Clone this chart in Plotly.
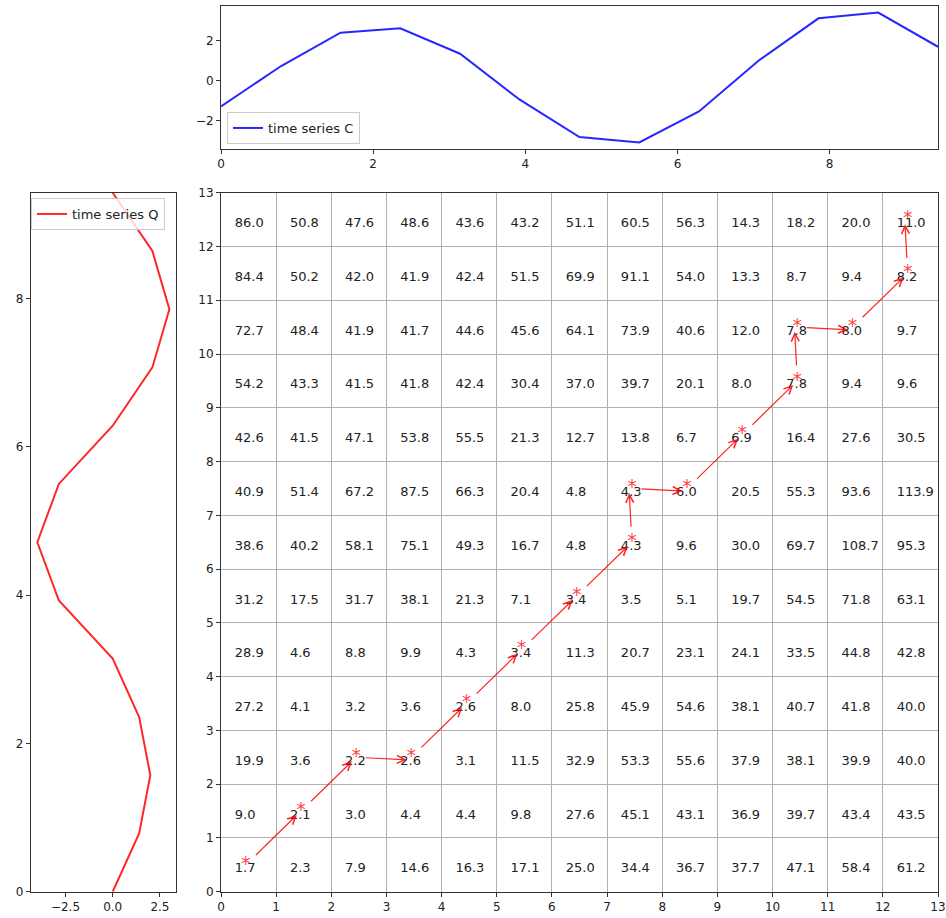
import plotly.graph_objects as go

# ---------------- data ----------------
t_values = [0.0, 0.785, 1.571, 2.356, 3.142, 3.927, 4.712, 5.498, 6.283, 7.069, 7.854, 8.639, 9.425]
series_c = [-1.30, 0.72, 2.41, 2.63, 1.35, -0.96, -2.84, -3.11, -1.55, 1.01, 3.13, 3.42, 1.70]
series_q = [0.0, 1.40, 1.99, 1.40, 0.0, -2.85, -3.99, -2.85, 0.0, 2.10, 3.00, 2.10, 0.0]

# cost matrix, row index = Q index (bottom to top), column = C index
cost_rows = [
    [1.7, 2.3, 7.9, 14.6, 16.3, 17.1, 25.0, 34.4, 36.7, 37.7, 47.1, 58.4, 61.2],
    [9.0, 2.1, 3.0, 4.4, 4.4, 9.8, 27.6, 45.1, 43.1, 36.9, 39.7, 43.4, 43.5],
    [19.9, 3.6, 2.2, 2.6, 3.1, 11.5, 32.9, 53.3, 55.6, 37.9, 38.1, 39.9, 40.0],
    [27.2, 4.1, 3.2, 3.6, 2.6, 8.0, 25.8, 45.9, 54.6, 38.1, 40.7, 41.8, 40.0],
    [28.9, 4.6, 8.8, 9.9, 4.3, 3.4, 11.3, 20.7, 23.1, 24.1, 33.5, 44.8, 42.8],
    [31.2, 17.5, 31.7, 38.1, 21.3, 7.1, 3.4, 3.5, 5.1, 19.7, 54.5, 71.8, 63.1],
    [38.6, 40.2, 58.1, 75.1, 49.3, 16.7, 4.8, 4.3, 9.6, 30.0, 69.7, 108.7, 95.3],
    [40.9, 51.4, 67.2, 87.5, 66.3, 20.4, 4.8, 4.3, 6.0, 20.5, 55.3, 93.6, 113.9],
    [42.6, 41.5, 47.1, 53.8, 55.5, 21.3, 12.7, 13.8, 6.7, 6.9, 16.4, 27.6, 30.5],
    [54.2, 43.3, 41.5, 41.8, 42.4, 30.4, 37.0, 39.7, 20.1, 8.0, 7.8, 9.4, 9.6],
    [72.7, 48.4, 41.9, 41.7, 44.6, 45.6, 64.1, 73.9, 40.6, 12.0, 7.8, 8.0, 9.7],
    [84.4, 50.2, 42.0, 41.9, 42.4, 51.5, 69.9, 91.1, 54.0, 13.3, 8.7, 9.4, 8.2],
    [86.0, 50.8, 47.6, 48.6, 43.6, 43.2, 51.1, 60.5, 56.3, 14.3, 18.2, 20.0, 11.0],
]

# warping path (C index, Q index)
path_c = [0, 1, 2, 3, 4, 5, 6, 7, 7, 8, 9, 10, 10, 11, 12, 12]
path_q = [0, 1, 2, 2, 3, 4, 5, 6, 7, 7, 8, 9, 10, 10, 11, 12]

grid_ticks = list(range(14))

# ---------------- figure ----------------
FONT = "DejaVu Sans"
W, H = 946, 918

fig = go.Figure()

# cell values
cx, cy, ct = [], [], []
for j, row in enumerate(cost_rows):
    for i, v in enumerate(row):
        cx.append(i + 0.25)
        cy.append(j + 0.42)
        ct.append(f"{v:.1f}")
fig.add_trace(go.Scatter(
    x=cx, y=cy, text=ct, mode="text", textposition="middle right",
    textfont=dict(family=FONT, size=13, color="#222222"),
    showlegend=False, hoverinfo="skip", xaxis="x", yaxis="y"))

# path stars
fig.add_trace(go.Scatter(
    x=[i + 0.45 for i in path_c], y=[j + 0.5 for j in path_q],
    text=["*"] * len(path_c), mode="text", textposition="middle center",
    textfont=dict(family=FONT, size=19, color="rgba(255,0,0,0.75)"),
    showlegend=False, hoverinfo="skip", xaxis="x", yaxis="y"))

# arrows
annotations = []
for k in range(len(path_c) - 1):
    i0, j0, i1, j1 = path_c[k], path_q[k], path_c[k + 1], path_q[k + 1]
    if i1 != i0 and j1 != j0:
        sso = 12
    elif j1 == j0:
        sso = 8
    else:
        sso = 14
    annotations.append(dict(
        x=i1 + 0.4, y=j1 + 0.45, ax=i0 + 0.45, ay=j0 + 0.5,
        xref="x", yref="y", axref="x", ayref="y",
        showarrow=True, arrowhead=5, arrowsize=1.3, arrowwidth=1.2,
        arrowcolor="rgba(255,0,0,0.85)", standoff=2, startstandoff=sso, text=""))

# top series C
fig.add_trace(go.Scatter(
    x=t_values, y=series_c, mode="lines", name="time series C",
    line=dict(color="rgba(0,0,255,0.85)", width=2),
    xaxis="x2", yaxis="y2", legend="legend"))

# left series Q (vertical)
fig.add_trace(go.Scatter(
    x=series_q, y=t_values, mode="lines", name="time series Q",
    line=dict(color="rgba(255,0,0,0.85)", width=2),
    xaxis="x3", yaxis="y3", legend="legend2"))

axis_common = dict(
    showline=True, linecolor="#333333", linewidth=1, mirror=True,
    ticks="outside", ticklen=4, tickcolor="#333333", tickwidth=1,
    zeroline=False, automargin=False,
    tickfont=dict(family=FONT, size=12, color="#222222"))

main_x = [221 / W, 938 / W]
main_y = [1 - 891.7 / H, 1 - 192.7 / H]
top_y = [1 - 149 / H, 1 - 6 / H]
left_x = [30.7 / W, 176 / W]

fig.update_layout(
    template="none",
    width=W, height=H,
    margin=dict(l=0, r=0, t=0, b=0, pad=0),
    paper_bgcolor="white", plot_bgcolor="white",
    font=dict(family=FONT, size=12, color="#222222"),
    annotations=annotations,
    xaxis=dict(domain=main_x, range=[0, 13], tickvals=grid_ticks, showgrid=True,
               gridcolor="#b0b0b0", gridwidth=1, anchor="y", **axis_common),
    yaxis=dict(domain=main_y, range=[0, 13], tickvals=grid_ticks, showgrid=True,
               gridcolor="#b0b0b0", gridwidth=1, anchor="x", **axis_common),
    xaxis2=dict(domain=main_x, range=[0, 9.425], tickvals=[0, 2, 4, 6, 8], showgrid=False,
                anchor="y2", **axis_common),
    yaxis2=dict(domain=top_y, range=[-3.44, 3.75], tickvals=[-2, 0, 2], showgrid=False,
                anchor="x2", **axis_common),
    xaxis3=dict(domain=left_x, range=[-4.34, 3.35], tickvals=[-2.5, 0, 2.5], tickformat=".1f",
                showgrid=False, anchor="y3", **axis_common),
    yaxis3=dict(domain=main_y, range=[0, 9.425], tickvals=[0, 2, 4, 6, 8], showgrid=False,
                anchor="x3", **axis_common),
    legend=dict(x=227 / W, y=1 - 144 / H, xanchor="left", yanchor="bottom",
                bgcolor="rgba(255,255,255,0.8)", bordercolor="#cccccc", borderwidth=1,
                font=dict(family=FONT, size=13, color="#222222"),
                tracegroupgap=0),
    legend2=dict(x=31 / W, y=1 - 198 / H, xanchor="left", yanchor="top",
                 bgcolor="rgba(255,255,255,0.8)", bordercolor="#cccccc", borderwidth=1,
                 font=dict(family=FONT, size=13, color="#222222"),
                 tracegroupgap=0),
)

fig.write_html("out.html")
